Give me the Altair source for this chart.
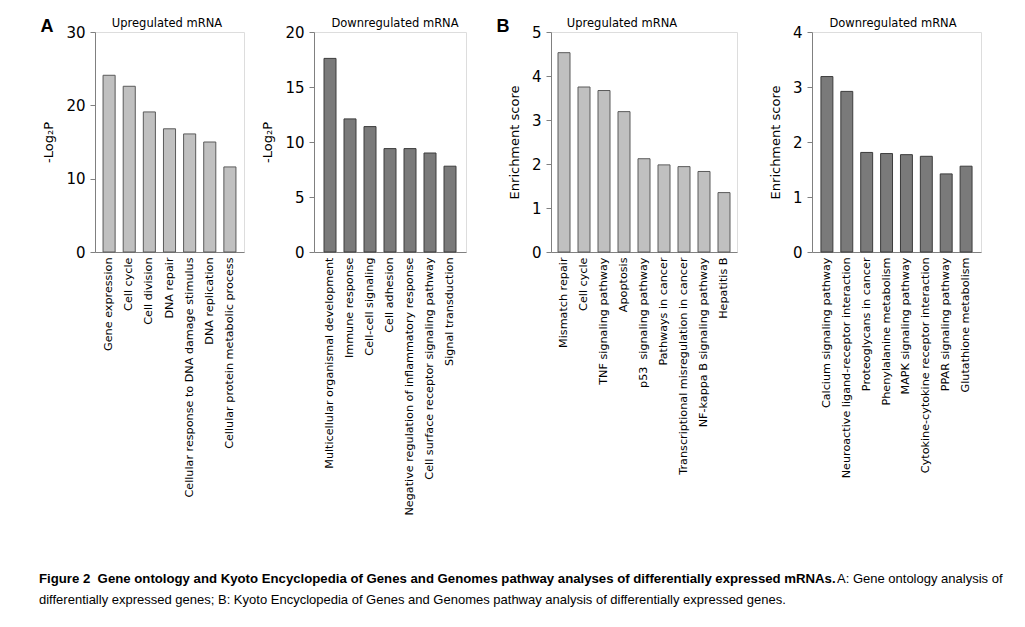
import altair as alt
import pandas as pd

FONT = "DejaVu Sans"

go_up_terms = ["Gene expression", "Cell cycle", "Cell division", "DNA repair",
               "Cellular response to DNA damage stimulus", "DNA replication",
               "Cellular protein metabolic process"]
go_up_vals = [24.1, 22.6, 19.1, 16.8, 16.1, 15.0, 11.6]

go_down_terms = ["Multicellular organismal development", "Immune response",
                 "Cell-cell signaling", "Cell adhesion",
                 "Negative regulation of inflammatory response",
                 "Cell surface receptor signaling pathway", "Signal transduction"]
go_down_vals = [17.6, 12.1, 11.4, 9.4, 9.4, 9.0, 7.8]

kegg_up_terms = ["Mismatch repair", "Cell cycle", "TNF signaling pathway", "Apoptosis",
                 "p53\u00a0 signaling pathway", "Pathways in cancer",
                 "Transcriptional misregulation in cancer",
                 "NF-kappa B signaling pathway", "Hepatitis B"]
kegg_up_vals = [4.53, 3.75, 3.67, 3.19, 2.12, 1.98, 1.94, 1.83, 1.35]

kegg_down_terms = ["Calcium signaling pathway", "Neuroactive ligand-receptor interaction",
                   "Proteoglycans in cancer", "Phenylalanine metabolism",
                   "MAPK signaling pathway", "Cytokine-cytokine receptor interaction",
                   "PPAR signaling pathway", "Glutathione metabolism"]
kegg_down_vals = [3.19, 2.92, 1.81, 1.79, 1.77, 1.74, 1.42, 1.56]

caption_bold = ("Figure 2\u00a0 Gene ontology and Kyoto Encyclopedia of Genes and Genomes "
                "pathway analyses of differentially expressed mRNAs.")
caption_rest1 = "A: Gene ontology analysis of"
caption_line2 = ("differentially expressed genes; B: Kyoto Encyclopedia of Genes and "
                 "Genomes pathway analysis of differentially expressed genes.")

LIGHT = ("#c0c0c0", "#5a5a5a")
DARK = ("#7a7a7a", "#3c3c3c")


def panel(terms, vals, title, title_x, ytitle, ymax, yvals, colors, width, po,
          letter=None, filler=None):
    df = pd.DataFrame({"term": terms, "value": vals})
    bars = alt.Chart(df).mark_bar(fill=colors[0], stroke=colors[1], strokeWidth=1).encode(
        x=alt.X("term:N", sort=terms,
                scale=alt.Scale(paddingInner=0.4, paddingOuter=po),
                axis=alt.Axis(title=None, labelAngle=270, labelFontSize=11.2, labelFont=FONT,
                              labelColor="black", domainColor="#808080", ticks=False,
                              labelPadding=5, labelLimit=0)),
        y=alt.Y("value:Q", scale=alt.Scale(domain=[0, ymax], nice=False),
                axis=alt.Axis(values=yvals, title=ytitle, titleFont=FONT, titleFontSize=13,
                              titleFontWeight="normal", titleColor="black",
                              titlePadding=10, labelFont=FONT, labelFontSize=15,
                              labelColor="black", domainColor="#808080",
                              tickColor="#808080", tickSize=5, labelPadding=5,
                              grid=False)),
    )
    ttl = alt.Chart(pd.DataFrame({"t": [title]})).mark_text(
        font=FONT, fontSize=11.5, align="center", baseline="alphabetic",
        color="black").encode(text="t:N", x=alt.value(title_x), y=alt.value(-5))
    layers = [bars, ttl]
    if letter is not None:
        txt = alt.Chart(pd.DataFrame({"t": [letter]})).mark_text(
            font="Liberation Sans", fontSize=18, fontWeight="bold", align="center",
            baseline="middle", color="black").encode(
            text="t:N", x=alt.value(-48), y=alt.value(-5))
        layers.append(txt)
    if filler is not None:
        f = alt.Chart(pd.DataFrame({"t": ["B"]})).mark_text(
            font="Liberation Sans", fontSize=18, fontWeight="bold", align="left",
            baseline="middle", opacity=0).encode(
            text="t:N", x=alt.value(filler), y=alt.value(-5))
        layers.append(f)
    return alt.layer(*layers).properties(width=width, height=220)


p1 = panel(go_up_terms, go_up_vals, "Upregulated mRNA", 72, "-Log₂P", 30,
           [0, 10, 20, 30], LIGHT, 149, 0.4, "A")
p2 = panel(go_down_terms, go_down_vals, "Downregulated mRNA", 81, "-Log₂P", 20,
           [0, 5, 10, 15, 20], DARK, 152, 0.5)
p3 = panel(kegg_up_terms, kegg_up_vals, "Upregulated mRNA", 71, "Enrichment score", 5,
           [0, 1, 2, 3, 4, 5], LIGHT, 186, 0.35, "B", filler=-67)
p4 = panel(kegg_down_terms, kegg_down_vals, "Downregulated mRNA", 81, "Enrichment score",
           4, [0, 1, 2, 3, 4], DARK, 169, 0.45, filler=-57)

top = alt.hconcat(p1, p2, p3, p4, spacing=16)

cap_b = alt.Chart(pd.DataFrame({"t": [caption_bold]})).mark_text(
    font="Liberation Sans", fontSize=13.2, fontWeight="bold", align="left",
    baseline="alphabetic", color="black").encode(text="t:N", x=alt.value(-56), y=alt.value(66))
cap_r = alt.Chart(pd.DataFrame({"t": [caption_rest1]})).mark_text(
    font="Liberation Sans", fontSize=13, align="left",
    baseline="alphabetic", color="black").encode(text="t:N", x=alt.value(742), y=alt.value(66))
cap_2 = alt.Chart(pd.DataFrame({"t": [caption_line2]})).mark_text(
    font="Liberation Sans", fontSize=13, align="left",
    baseline="alphabetic", color="black").encode(text="t:N", x=alt.value(-56), y=alt.value(87))
caption = alt.layer(cap_b, cap_r, cap_2).properties(
    width=1, height=1,
    view=alt.ViewBackground(stroke="transparent", fill="transparent"))

chart = alt.vconcat(top, caption, spacing=0).properties(
    padding={"left": 30, "top": 9, "right": 5, "bottom": 5}
).configure_view(stroke="transparent").configure(background="white")

chart.save("out.html", embed_options={"renderer": "svg", "actions": False})
